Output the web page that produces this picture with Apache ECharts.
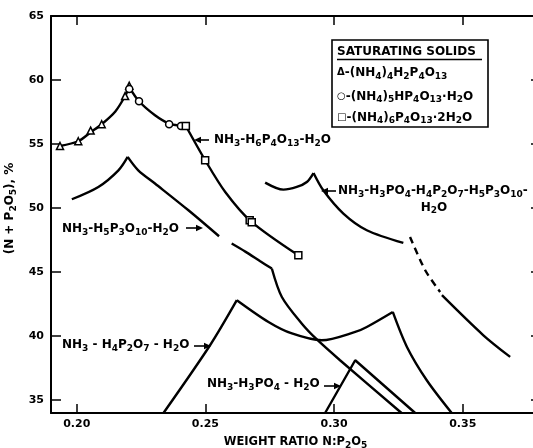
<!DOCTYPE html>
<html><head><meta charset="utf-8">
<script src="https://cdn.jsdelivr.net/npm/echarts@6/dist/echarts.min.js"></script>
<style>html,body{margin:0;padding:0;background:#fff}#c{width:533px;height:448px}</style>
</head><body><div id="c"></div>
<script>
const FONT = 'DejaVu Sans';
const xTicks = [0.20, 0.25, 0.30, 0.35];
const xTickLabels = ['0.20', '0.25', '0.30', '0.35'];
const yTicks = [35, 40, 45, 50, 55, 60, 65];
const yTickLabels = ['35', '40', '45', '50', '55', '60', '65'];

// NH3-H6P4O13-H2O (three branches)
const h6Rise = [[0.1935,54.85],[0.2006,55.22],[0.2054,55.92],[0.2097,56.55],[0.2150,57.55],[0.2188,58.75],[0.2204,59.45]];
const h6Fall1 = [[0.2204,59.45],[0.2242,58.34],[0.2304,57.25],[0.2359,56.6],[0.2405,56.43],[0.2424,56.41]];
const h6Fall2 = [[0.2424,56.41],[0.2499,53.74],[0.2577,51.26],[0.2677,48.97],[0.2861,46.32]];
// saturating solids markers
const triPts = [[0.1935,54.85],[0.2006,55.22],[0.2054,56.05],[0.2097,56.55],[0.2188,58.75],[0.2204,59.55]];
const circPts = [[0.2204,59.3],[0.2242,58.34],[0.2359,56.55],[0.2405,56.41]];
const sqPts = [[0.2424,56.41],[0.2499,53.74],[0.2672,49.05],[0.2680,48.9],[0.2861,46.32]];

// NH3-H5P3O10-H2O
const h5Rise = [[0.1981,50.69],[0.2084,51.65],[0.2162,52.95],[0.2198,54.0]];
const h5Fall = [[0.2198,54.0],[0.2239,52.95],[0.2304,51.92],[0.2434,49.83],[0.2553,47.80]];
const h5Cont = [[0.2602,47.23],[0.2655,46.6],[0.2713,45.85],[0.2758,45.28]];
const h5Drop = [[0.2758,45.28],[0.2797,43.06],[0.2874,40.99],[0.2933,39.74],[0.3023,38.12],[0.3262,34.0]];

// NH3-H4P2O7-H2O
const h4Rise = [[0.2337,34.0],[0.2518,39.29],[0.2622,42.81]];
const h4Mid = [[0.2622,42.81],[0.2745,41.11],[0.2836,40.21],[0.2952,39.68],[0.3082,40.33],[0.3127,40.72],[0.3228,41.89]];
const h4Fall = [[0.3228,41.89],[0.3283,39.16],[0.3360,36.56],[0.3457,34.0]];

// NH3-H3PO4-H2O
const h3 = [[0.2965,34.0],[0.3082,38.12],[0.3315,34.0]];

// NH3-H3PO4-H4P2O7-H5P3O10-H2O
const mixA = [[0.2732,51.99],[0.2803,51.44],[0.2855,51.65],[0.2894,52.04],[0.2920,52.74]];
const mixB = [[0.2920,52.74],[0.2958,51.39],[0.3036,49.57],[0.3127,48.27],[0.3269,47.28]];
const mixDash = [[0.3295,47.75],[0.3354,45.15],[0.3412,43.45]];
const mixC = [[0.3419,43.20],[0.3580,40.07],[0.3684,38.38]];

const RICH = {
  s: {fontSize: 9, fontWeight: 'bold', fontFamily: FONT, padding: [7,0,0,0], fill: '#000', color: '#000'},
  m: {fontSize: 10, fontWeight: 'bold', fontFamily: FONT, fill: '#000', color: '#000'}
};

function curve(data, smooth, dashed) {
  return {type: 'line', data: data, smooth: smooth ? 0.3 : false, showSymbol: false, symbol: 'none',
    lineStyle: {color: '#000', width: 2.4, type: dashed ? [7, 5] : 'solid'}, silent: true, z: 2};
}
function marks(data, symbol, size) {
  return {type: 'scatter', data: data, symbol: symbol, symbolSize: size,
    itemStyle: {color: '#fff', opacity: 1, borderColor: '#000', borderWidth: 1.5}, z: 5, silent: true};
}
function fmt(ticks, labels) {
  return function (v) { const i = ticks.findIndex(t => Math.abs(t - v) < 1e-9); return i >= 0 ? labels[i] : ''; };
}
function txt(text, x, y, align) {
  return {type: 'text', x: x, y: y, z: 20, style: {text: text, fill: '#000', fontSize: 12, fontWeight: 'bold',
    fontFamily: FONT, align: align || 'left', verticalAlign: 'middle', rich: RICH}};
}
function arrow(x1, y1, x2, y2) {
  const dx = x2 - x1, dy = y2 - y1, L = Math.hypot(dx, dy), ux = dx / L, uy = dy / L;
  const hl = 7, hw = 3.2;
  const bx = x2 - ux * hl, by = y2 - uy * hl;
  return [
    {type: 'line', z: 20, shape: {x1: x1, y1: y1, x2: bx, y2: by}, style: {stroke: '#000', lineWidth: 1.6}},
    {type: 'polygon', z: 20, shape: {points: [[x2, y2], [bx - uy * hw, by + ux * hw], [bx + uy * hw, by - ux * hw]]}, style: {fill: '#000'}}
  ];
}

const axisCommon = {
  axisLine: {show: true, onZero: false, lineStyle: {color: '#000', width: 2}},
  splitLine: {show: false}
};

const chart = echarts.init(document.getElementById('c'), null, {renderer: 'canvas'});
chart.setOption({
  animation: false,
  backgroundColor: '#fff',
  grid: {left: 51, top: 16, width: 489, height: 397, containLabel: false, outerBoundsMode: 'none'},
  xAxis: [
    Object.assign({type: 'value', min: 0.19, max: 0.38, position: 'bottom',
      axisTick: {inside: true, length: 9, customValues: xTicks, lineStyle: {color: '#000', width: 1.5}},
      axisLabel: {customValues: xTicks, formatter: fmt(xTicks, xTickLabels), color: '#000', fontSize: 11, fontWeight: 'bold', fontFamily: FONT, margin: 6},
      name: 'WEIGHT RATIO N:P{s|2}O{s|5}', nameLocation: 'middle', nameGap: 21,
      nameTextStyle: {color: '#000', fontSize: 11.5, fontWeight: 'bold', fontFamily: FONT, rich: RICH}
    }, axisCommon),
    Object.assign({type: 'value', min: 0.19, max: 0.38, position: 'top',
      axisTick: {inside: true, length: 9, customValues: xTicks, lineStyle: {color: '#000', width: 1.5}},
      axisLabel: {show: false}}, axisCommon)
  ],
  yAxis: [
    Object.assign({type: 'value', min: 34, max: 65, position: 'left',
      axisTick: {inside: true, length: 10, customValues: yTicks, lineStyle: {color: '#000', width: 1.5}},
      axisLabel: {customValues: yTicks, formatter: fmt(yTicks, yTickLabels), color: '#000', fontSize: 11, fontWeight: 'bold', fontFamily: FONT, margin: 7},
      name: '(N + P{s|2}O{s|5}), %', nameLocation: 'middle', nameGap: 25, nameRotate: 90,
      nameTextStyle: {color: '#000', fontSize: 12, fontWeight: 'bold', fontFamily: FONT, rich: RICH, padding: [0, 0, 0, 12]}
    }, axisCommon),
    Object.assign({type: 'value', min: 34, max: 65, position: 'right',
      axisTick: {inside: true, length: 9, customValues: yTicks, lineStyle: {color: '#000', width: 1.5}},
      axisLabel: {show: false}}, axisCommon)
  ],
  series: [
    curve(h6Rise, true), curve(h6Fall1, true), curve(h6Fall2, true),
    curve(h5Rise, true), curve(h5Fall, true), curve(h5Cont, true), curve(h5Drop, true),
    curve(h4Rise, true), curve(h4Mid, true), curve(h4Fall, true),
    curve(h3, false),
    curve(mixA, true), curve(mixB, true), curve(mixDash, true, true), curve(mixC, true),
    marks(triPts, 'triangle', 7), marks(circPts, 'circle', 7), marks(sqPts, 'rect', 7)
  ],
  graphic: [].concat(
    [{type: 'rect', z: 15, shape: {x: 332, y: 40, width: 156, height: 87}, style: {fill: '#fff', stroke: '#000', lineWidth: 1.6}},
     {type: 'line', z: 20, shape: {x1: 337, y1: 59.5, x2: 482, y2: 59.5}, style: {stroke: '#000', lineWidth: 1.3}},
     txt('SATURATING SOLIDS', 337, 51.5),
     txt('{m|Δ}-(NH{s|4}){s|4}H{s|2}P{s|4}O{s|13}', 337, 72.7),
     txt('{m|○}-(NH{s|4}){s|5}HP{s|4}O{s|13}·H{s|2}O', 337, 96.5),
     txt('{m|□}-(NH{s|4}){s|6}P{s|4}O{s|13}·2H{s|2}O', 337, 117.5),
     txt('NH{s|3}-H{s|6}P{s|4}O{s|13}-H{s|2}O', 214, 140),
     txt('NH{s|3}-H{s|5}P{s|3}O{s|10}-H{s|2}O', 62, 229),
     txt('NH{s|3}-H{s|3}PO{s|4}-H{s|4}P{s|2}O{s|7}-H{s|5}P{s|3}O{s|10}-', 338, 191),
     txt('H{s|2}O', 434, 207.5, 'center'),
     txt('NH{s|3} - H{s|4}P{s|2}O{s|7} - H{s|2}O', 62, 345),
     txt('NH{s|3}-H{s|3}PO{s|4} - H{s|2}O', 207, 384)],
    arrow(209, 140, 194, 140),
    arrow(186, 228, 203, 228),
    arrow(336, 191, 321, 191),
    arrow(194, 346, 211, 346),
    arrow(324, 386, 341, 386)
  )
});
</script></body></html>
